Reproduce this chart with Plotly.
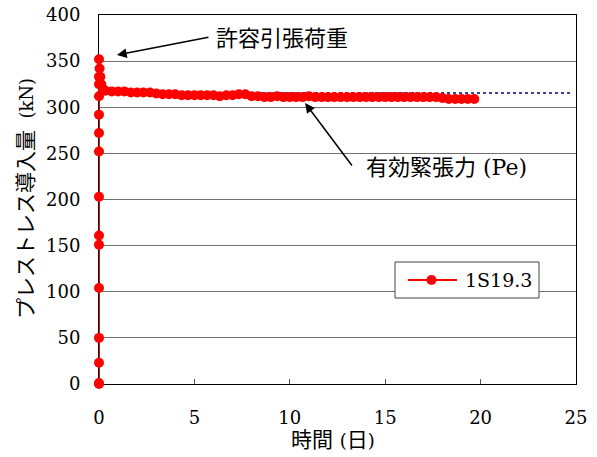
import plotly.graph_objects as go

# --- data -------------------------------------------------------------
days = [0, 0, 0, 0, 0, 0, 0, 0, 0, 0, 0, 0, 0, 0, 0,
        0.03, 0.07, 0.12, 0.2,
        0.33, 0.67, 1.0, 1.33, 1.67, 2.0, 2.33, 2.67, 3.0, 3.33,
        3.67, 4.0, 4.33, 4.67, 5.0, 5.33, 5.67, 6.0, 6.33, 6.67,
        7.0, 7.33, 7.67, 8.0, 8.33, 8.67, 9.0, 9.33, 9.67, 10.0,
        10.33, 10.67, 11.0, 11.33, 11.67, 12.0, 12.33, 12.67, 13.0, 13.33,
        13.67, 14.0, 14.33, 14.67, 15.0, 15.33, 15.67, 16.0, 16.33, 16.67,
        17.0, 17.33, 17.67, 18.0, 18.33, 18.67, 19.0, 19.33, 19.67]
force_kN = [0, 1, 23, 50, 104, 151, 161, 203, 252, 272, 292, 312, 325, 333, 352,
            342, 333, 325, 320,
            318, 317, 317, 317, 316, 316, 316, 316, 315, 314,
            314, 314, 313, 313, 313, 313, 313, 313, 312, 313,
            313, 314, 314, 312, 312, 311, 311, 312, 311, 311,
            311, 311, 312, 311, 311, 311, 311, 311, 311, 311,
            311, 311, 311, 311, 311, 311, 311, 311, 311, 311,
            311, 311, 311, 310, 309, 309, 309, 309, 309]
series_name = "1S19.3"

pe_x = [0, 24.7]
pe_y = [315.5, 315.5]

x_ticks = [0, 5, 10, 15, 20, 25]
y_ticks = [0, 50, 100, 150, 200, 250, 300, 350, 400]

FONT = "DejaVu Serif, Noto Sans CJK JP"
RED = "#ff0000"

fig = go.Figure()
fig.add_trace(go.Scatter(
    x=pe_x, y=pe_y, mode="lines", showlegend=False, hoverinfo="skip",
    line=dict(color="#000080", width=1.5, dash="dot"),
))
fig.add_trace(go.Scatter(
    x=days, y=force_kN, mode="lines+markers", name=series_name, showlegend=False,
    line=dict(color=RED, width=2),
    marker=dict(color=RED, size=10),
    cliponaxis=False,
))

L, R, T, B = 99, 21, 15, 73
PW, PH = 597 - L - R, 457 - T - B


def px(x):
    return (x - L) / PW


def py(y):
    return (457 - B - y) / PH


fig.update_layout(
    width=597, height=457,
    margin=dict(l=L, r=R, t=T, b=B),
    paper_bgcolor="white", plot_bgcolor="white",
    font=dict(family=FONT, size=18, color="black"),
    xaxis=dict(range=[0, 25], tickvals=x_ticks, showgrid=False, zeroline=False,
               showline=True, mirror=True, linecolor="black", linewidth=1,
               ticks="inside", ticklen=5, tickcolor="#555",
               ticklabelstandoff=17, automargin=False, layer="below traces",
               tickfont=dict(family=FONT, size=18)),
    yaxis=dict(range=[0, 400], tickvals=y_ticks, showgrid=True,
               gridcolor="#707070", gridwidth=1, zeroline=False,
               showline=True, mirror=True, linecolor="black", linewidth=1,
               ticks="", ticklabelstandoff=14, automargin=False, layer="below traces",
               tickfont=dict(family=FONT, size=18)),
)

# legend box (drawn to match the reference's proportions)
shapes = [
    dict(type="rect", xref="paper", yref="paper", x0=px(395), x1=px(539),
         y0=py(298), y1=py(262), line=dict(color="#444", width=1),
         fillcolor="white", layer="above"),
    dict(type="line", xref="paper", yref="paper", x0=px(408), x1=px(457),
         y0=py(280), y1=py(280), line=dict(color=RED, width=2), layer="above"),
    dict(type="circle", xref="paper", yref="paper", x0=px(426.5), x1=px(436.5),
         y0=py(285), y1=py(275), line=dict(color=RED, width=0),
         fillcolor=RED, layer="above"),
]

ann = [
    dict(x=px(463), y=py(280), xref="paper", yref="paper", text=series_name,
         showarrow=False, xanchor="left", yanchor="middle",
         font=dict(family=FONT, size=19)),
    dict(x=0.94, y=356.6, xref="x", yref="y", ax=93, ay=-18, text="",
         showarrow=True, arrowhead=2, arrowsize=1.3, arrowwidth=1.5, arrowcolor="black"),
    dict(x=px(214), y=py(38), xref="paper", yref="paper", text="許容引張荷重",
         showarrow=False, xanchor="left", yanchor="middle", font=dict(family=FONT, size=22)),
    dict(x=10.8, y=304.6, xref="x", yref="y", ax=48, ay=64, text="",
         showarrow=True, arrowhead=2, arrowsize=1.3, arrowwidth=1.5, arrowcolor="black"),
    dict(x=px(364), y=py(167), xref="paper", yref="paper", text="有効緊張力 (Pe)",
         showarrow=False, xanchor="left", yanchor="middle", font=dict(family=FONT, size=22)),
    dict(x=px(333), y=py(440), xref="paper", yref="paper",
         text="時間 <span style='font-size:18px'>(</span>日<span style='font-size:18px'>)</span>",
         showarrow=False, xanchor="center", yanchor="middle",
         font=dict(family=FONT, size=21)),
    dict(x=px(26), y=py(199), xref="paper", yref="paper",
         text="プレストレス導入量<span style='font-size:18px'>\u00a0\u00a0(kN)</span>",
         textangle=-90, showarrow=False,
         xanchor="center", yanchor="middle", font=dict(family=FONT, size=21)),
]
fig.update_layout(annotations=ann, shapes=shapes)

fig.write_html("out.html", config={"displayModeBar": False},
               post_script="document.body.style.margin='0';document.body.style.overflow='hidden';")
